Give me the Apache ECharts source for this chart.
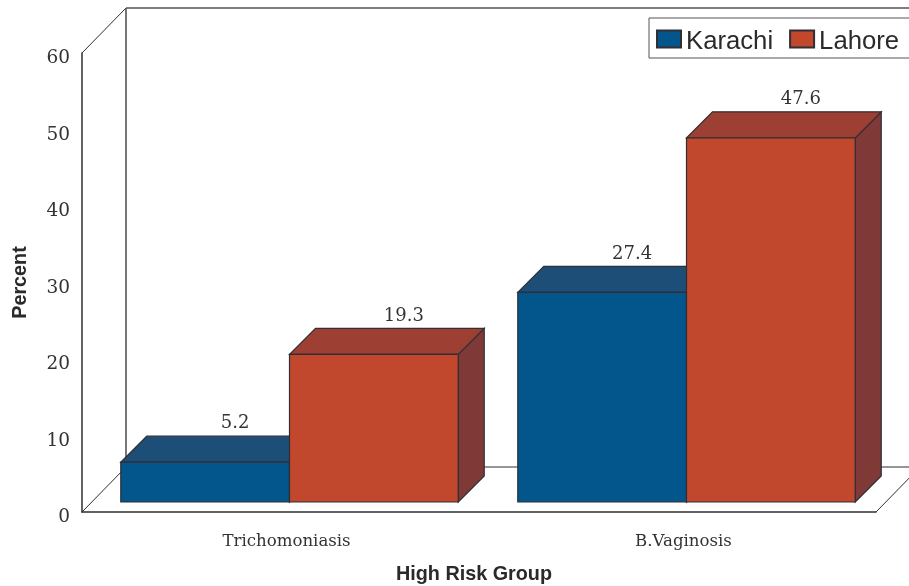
<!DOCTYPE html>
<html>
<head>
<meta charset="utf-8">
<style>
html, body { margin: 0; padding: 0; background: #fff; }
#chart { width: 909px; height: 586px; }
</style>
<script src="https://cdn.jsdelivr.net/npm/echarts@6/dist/echarts.min.js"></script>
</head>
<body>
<div id="chart"></div>
<script>
const categories = ['Trichomoniasis', 'B.Vaginosis']
const karachi = [5.2, 27.4]
const lahore = [19.3, 47.6]

const serifFont = '"DejaVu Serif", serif'
const sansFont = '"Liberation Sans", Arial, sans-serif'
const lineColor = '#2f2f35'

const barColors = {
	Karachi: { front: '#03568c', top: '#1d4e78', side: '#1d4e78' },
	Lahore: { front: '#c1472d', top: '#9e3f33', side: '#7f3a37' }
}

// room between the front edge of the floor and the bars
const inset = 10
const barDepth = 26
const barShare = 0.425
const wallX = 44
const wallY = 45

function poly(points, fill) {
	return {
		type: 'polygon',
		shape: { points },
		style: { fill, stroke: lineColor, lineWidth: 1.2 }
	}
}

function renderBar(name, side) {
	return (params, api) => {
		const top = api.coord([api.value(0), api.value(1)])
		const base = api.coord([api.value(0), 0])[1] - inset
		const band = api.size([1, 0])[0]
		const w = band * barShare
		const split = top[0] + inset - 1
		const x0 = side < 0 ? split - w : split
		const x1 = x0 + w
		const y = top[1] - inset
		const c = barColors[name]
		return {
			type: 'group',
			children: [
				poly([[x1, y], [x1 + barDepth, y - barDepth], [x1 + barDepth, base - barDepth], [x1, base]], c.side),
				poly([[x0, y], [x0 + barDepth, y - barDepth], [x1 + barDepth, y - barDepth], [x1, y]], c.top),
				poly([[x0, y], [x1, y], [x1, base], [x0, base]], c.front),
				{
					type: 'text',
					style: {
						text: String(api.value(1)),
						x: (x0 + x1) / 2 + 30,
						y: y - barDepth - 12.5,
						align: 'center',
						verticalAlign: 'middle',
						font: '18px ' + serifFont,
						fill: '#333'
					}
				}
			]
		}
	}
}

function renderFrame(params) {
	const g = params.coordSys
	const l = g.x
	const r = g.x + g.width
	const t = g.y
	const b = g.y + g.height
	const thin = { stroke: lineColor, lineWidth: 1 }
	const wall = { stroke: '#55555a', lineWidth: 1.6 }
	const line = (x1, y1, x2, y2, style) => ({ type: 'line', shape: { x1, y1, x2, y2 }, style })
	return {
		type: 'group',
		children: [
			line(l, t, l + wallX, t - wallY, thin),
			line(l + wallX, t - wallY, l + wallX, b - wallY, wall),
			line(l + wallX, t - wallY, r + wallX, t - wallY, wall),
			line(l + wallX, b - wallY, r + wallX, b - wallY, thin),
			line(l, b, l + wallX, b - wallY, thin),
			line(r, b, r + wallX, b - wallY, thin)
		]
	}
}

const chart = echarts.init(document.getElementById('chart'), null, { renderer: 'canvas' })
chart.setOption({
	animation: false,
	backgroundColor: '#fff',
	grid: { left: 82, right: 33, top: 53, bottom: 74, outerBoundsMode: 'none' },
	legend: {
		data: ['Karachi', 'Lahore'],
		orient: 'horizontal',
		left: 649,
		top: 18,
		width: 320,
		padding: [5, 14, 3, 7],
		icon: 'rect',
		itemWidth: 24,
		itemHeight: 17,
		itemGap: 16,
		borderColor: '#55555a',
		borderWidth: 1,
		borderRadius: 0,
		backgroundColor: '#fff',
		formatter: '{a|{name}}',
		textStyle: {
			fontFamily: sansFont,
			fontSize: 25.7,
			color: '#2a2a2a',
			rich: { a: { fontFamily: sansFont, fontSize: 25.7, lineHeight: 22, color: '#2a2a2a', padding: [6, 0, 0, 0] } }
		},
		selectedMode: false
	},
	xAxis: {
		type: 'category',
		data: categories,
		name: 'High Risk Group',
		nameLocation: 'middle',
		nameGap: 53,
		nameTextStyle: { fontFamily: sansFont, fontWeight: 'bold', fontSize: 19.8, color: '#2a2a2a', padding: [0, 10, 0, 0] },
		axisLine: { lineStyle: { color: lineColor, width: 1.5 } },
		axisTick: { show: false },
		axisLabel: { fontFamily: serifFont, fontSize: 16.6, color: '#333', margin: 21, padding: [0, 0, 0, 12] }
	},
	yAxis: {
		type: 'value',
		min: 0,
		max: 60,
		interval: 10,
		name: 'Percent',
		nameLocation: 'middle',
		nameGap: 51,
		nameTextStyle: { fontFamily: sansFont, fontWeight: 'bold', fontSize: 19.8, color: '#2a2a2a' },
		axisLine: { show: true, lineStyle: { color: lineColor, width: 1.5 } },
		axisTick: { show: false },
		splitLine: { show: false },
		axisLabel: { fontFamily: serifFont, fontSize: 18.5, color: '#333', margin: 12, verticalAlign: 'top', lineHeight: 11 }
	},
	series: [
		{ name: 'frame', type: 'custom', silent: true, z: 1, data: [[0, 0]], renderItem: renderFrame },
		{
			name: 'Karachi',
			type: 'custom',
			z: 2,
			itemStyle: { color: barColors.Karachi.front, borderColor: lineColor, borderWidth: 1 },
			data: karachi.map((v, i) => [i, v]),
			renderItem: renderBar('Karachi', -1)
		},
		{
			name: 'Lahore',
			type: 'custom',
			z: 3,
			itemStyle: { color: barColors.Lahore.front, borderColor: lineColor, borderWidth: 1 },
			data: lahore.map((v, i) => [i, v]),
			renderItem: renderBar('Lahore', 1)
		}
	]
})
</script>
</body>
</html>
